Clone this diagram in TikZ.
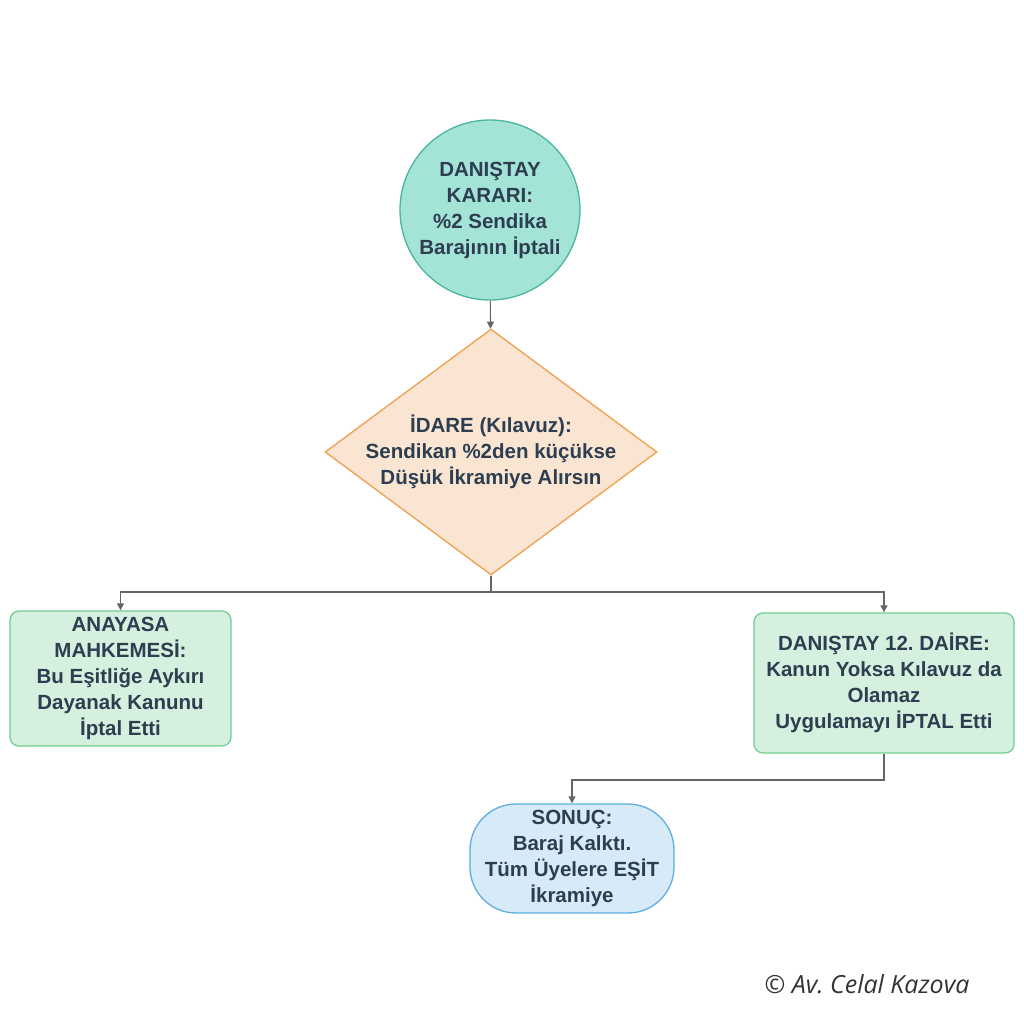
\documentclass[tikz,border=0pt]{standalone}
\usepackage{fontspec}
\setmainfont{Liberation Sans}
\newfontfamily\signfont{Open Sans}
\usetikzlibrary{shapes.geometric,arrows.meta}
\frenchspacing

\definecolor{inktext}{HTML}{2C3E50}
\definecolor{tealfill}{HTML}{A3E4D7}
\definecolor{tealline}{HTML}{48B59E}
\definecolor{peachfill}{HTML}{FAE5D3}
\definecolor{peachline}{HTML}{F0A04B}
\definecolor{greenfill}{HTML}{D5F0DF}
\definecolor{greenline}{HTML}{6FCF8F}
\definecolor{bluefill}{HTML}{D6EAF8}
\definecolor{blueline}{HTML}{5DADE2}
\definecolor{wire}{HTML}{666666}

\begin{document}
\begin{tikzpicture}[x=1pt, y=-1pt,
	every node/.style={font=\fontsize{20.5}{26}\selectfont\bfseries, text=inktext, align=center},
	start/.style={circle, draw=tealline, fill=tealfill, line width=1.3pt, minimum size=180pt, inner sep=0pt},
	decision/.style={diamond, draw=peachline, fill=peachfill, line width=1.3pt, minimum width=332pt, minimum height=246pt, inner sep=0pt},
	ruling/.style={rectangle, rounded corners=9pt, draw=greenline, fill=greenfill, line width=1.3pt, inner sep=0pt},
	outcome/.style={rectangle, rounded corners=46pt, draw=blueline, fill=bluefill, line width=1.3pt, minimum width=204pt, minimum height=109pt, inner sep=0pt},
	flow/.style={draw=wire, line width=1.1pt, -{Triangle[length=7pt,width=7pt]}}]

	\useasboundingbox (0,0) rectangle (1024,1024);

	\node[start] (karar) at (490, 210) {DANIŞTAY\\KARARI:\\\%2 Sendika\\Barajının İptali};
	\node[decision] (idare) at (491, 452) {};
	\node (idaretxt) at (idare.center) {İDARE (Kılavuz):\\Sendikan \%2den küçükse\\Düşük İkramiye Alırsın};
	\node[ruling, minimum width=221pt, minimum height=135pt] (aym) at (120.5, 678.5) {ANAYASA\\MAHKEMESİ:\\Bu Eşitliğe Aykırı\\Dayanak Kanunu\\İptal Etti};
	\node[ruling, minimum width=260pt, minimum height=140pt] (daire) at (884, 683) {DANIŞTAY 12. DAİRE:\\Kanun Yoksa Kılavuz da\\Olamaz\\Uygulamayı İPTAL Etti};
	\node[outcome] (sonuc) at (572, 858.5) {SONUÇ:\\Baraj Kalktı.\\Tüm Üyelere EŞİT\\İkramiye};

	\coordinate (split) at (491, 592);
	\coordinate (bend) at (884, 780);

	\draw[flow] (karar) -- (idare);
	\draw[flow] (idare.south) -- (split) -| (aym.north);
	\draw[flow] (split) -| (daire.north);
	\draw[flow] (daire.south) -- (bend) -| (sonuc.north);

	\node[font=\signfont\itshape\fontsize{25}{30}\selectfont, text=black!80] (imza) at (867, 984) {© Av. Celal Kazova};
\end{tikzpicture}
\end{document}
